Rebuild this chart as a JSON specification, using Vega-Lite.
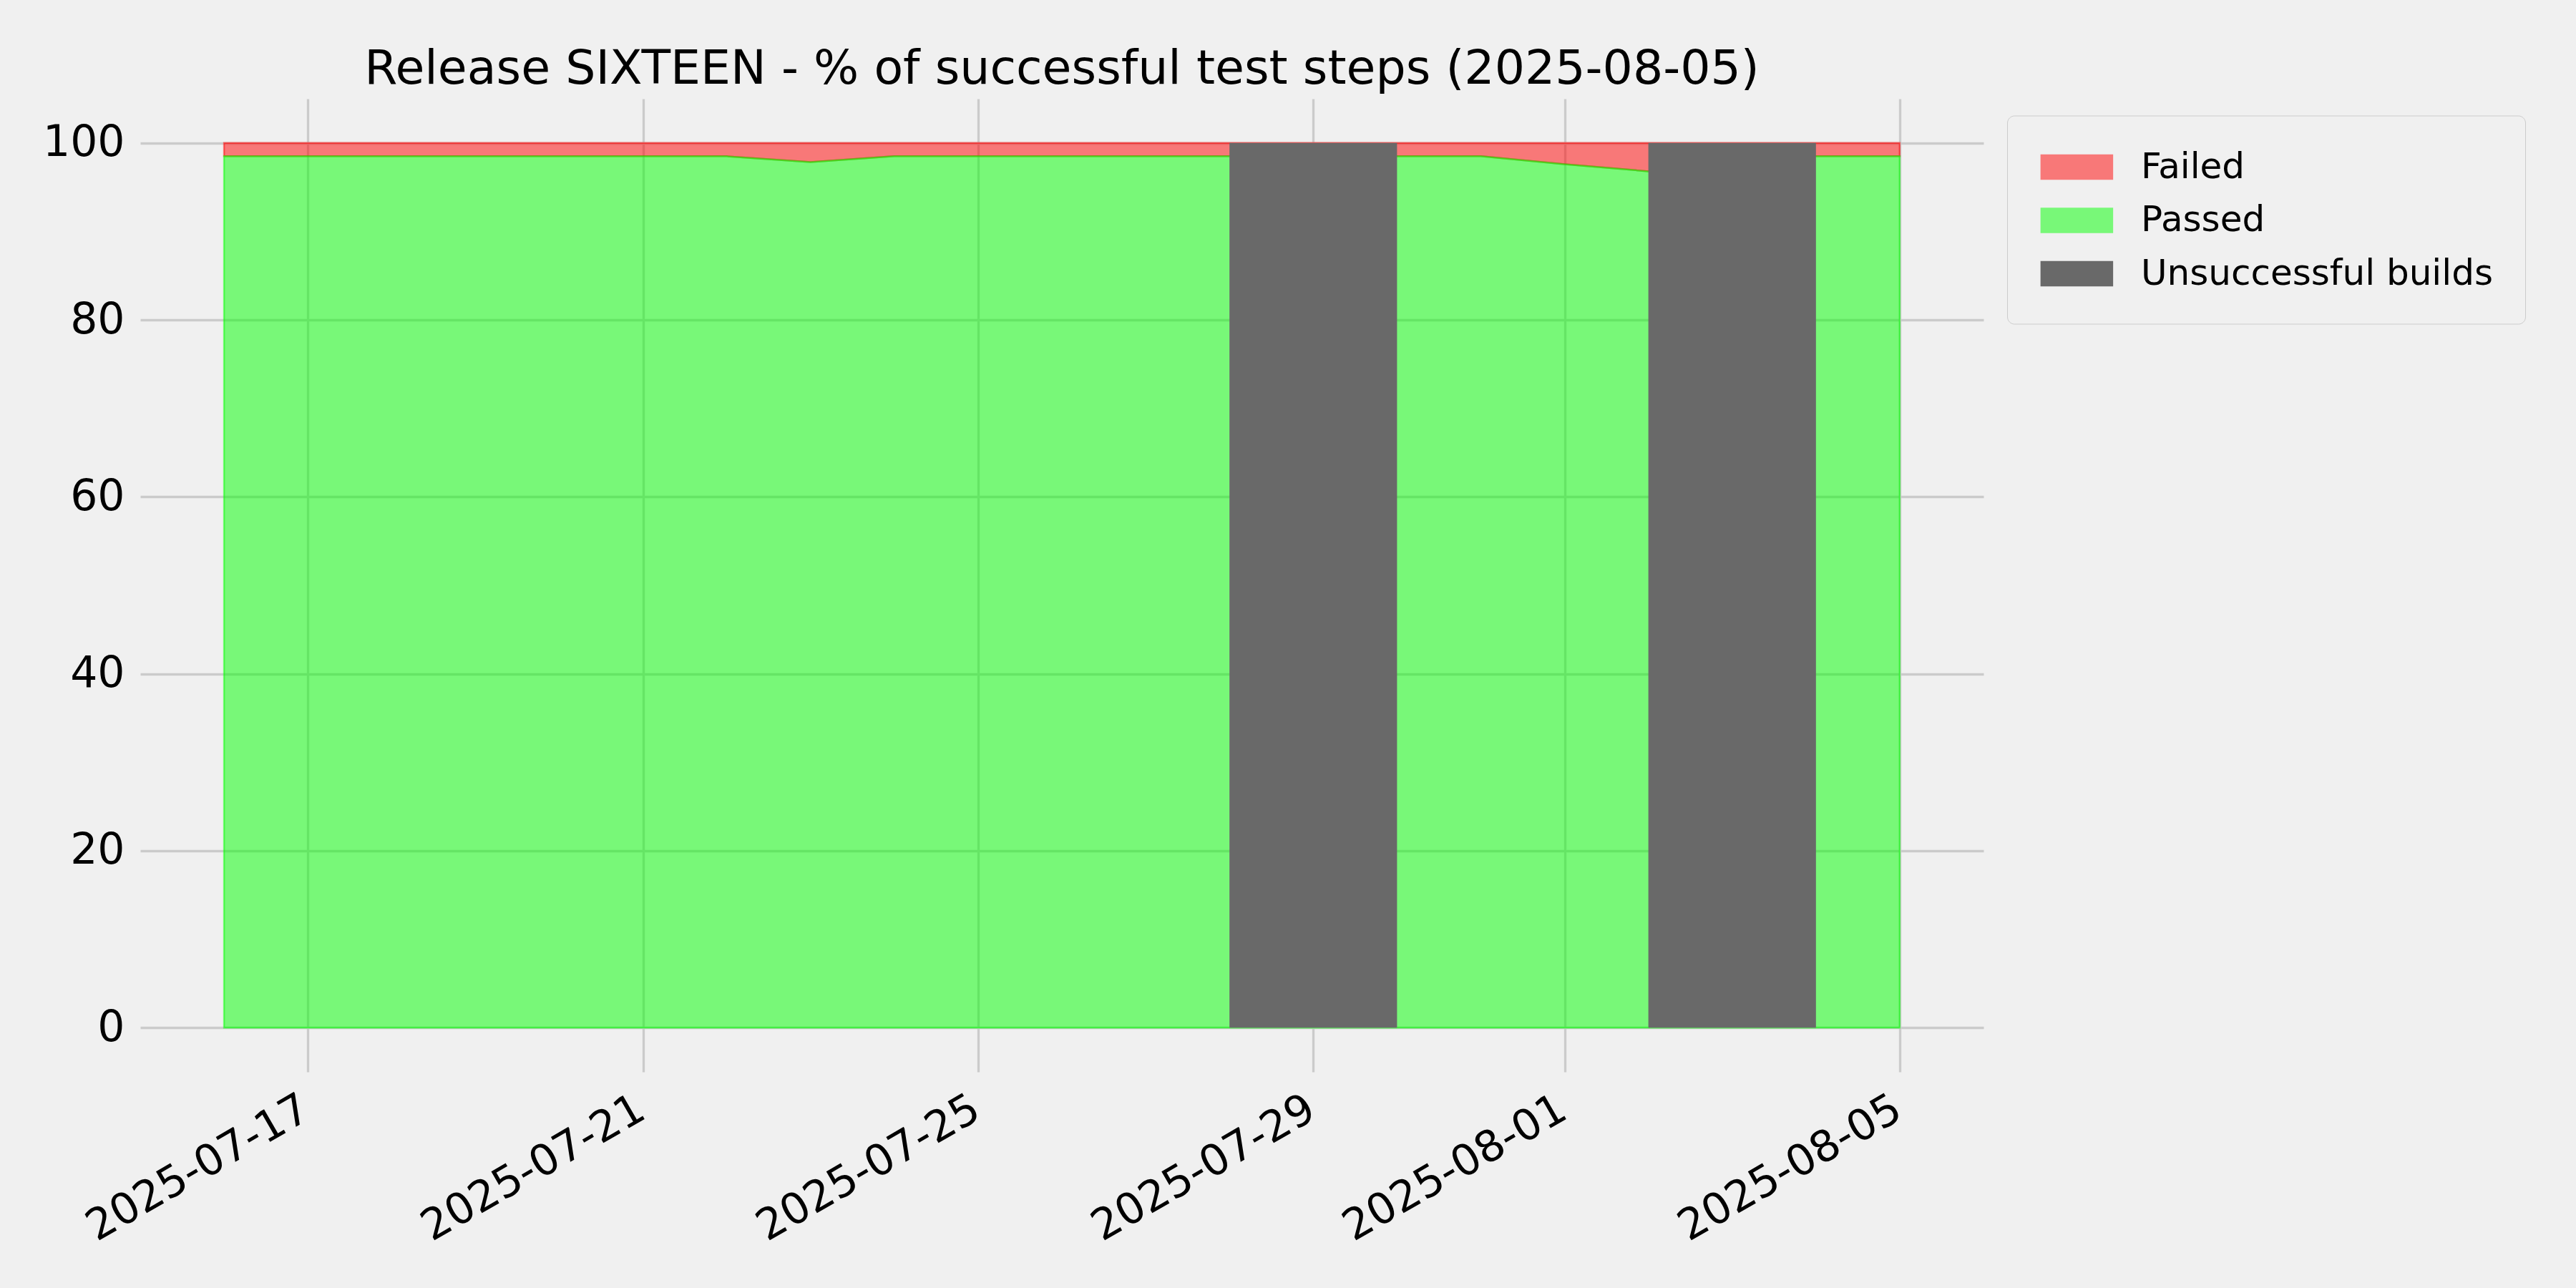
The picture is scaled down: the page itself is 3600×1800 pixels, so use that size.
{
  "$schema": "https://vega.github.io/schema/vega-lite/v6.json",
  "width": 2576,
  "height": 1360,
  "autosize": {"type": "none"},
  "padding": {"left": 196, "top": 138, "right": 828, "bottom": 302},
  "background": "#f0f0f0",
  "title": {
    "text": "Release SIXTEEN - % of successful test steps (2025-08-05)",
    "font": "DejaVu Sans",
    "fontSize": 66.5,
    "fontWeight": "normal",
    "color": "black",
    "anchor": "middle",
    "frame": "group",
    "baseline": "alphabetic",
    "offset": 24,
    "dy": 69
  },
  "config": {
    "view": {"stroke": null},
    "font": "DejaVu Sans",
    "axis": {
      "domain": false,
      "ticks": false,
      "grid": true,
      "gridColor": "#cbcbcb",
      "gridWidth": 3.3,
      "labelColor": "black",
      "labelFont": "DejaVu Sans",
      "labelFontSize": 60,
      "labelLimit": 2000,
      "title": null,
      "labelOverlap": false,
      "labelFlush": false,
      "labelBound": false
    }
  },
  "datasets": {
    "steps": [
      {"date": "2025-07-16", "passed": 98.5},
      {"date": "2025-07-17", "passed": 98.5},
      {"date": "2025-07-18", "passed": 98.5},
      {"date": "2025-07-19", "passed": 98.5},
      {"date": "2025-07-20", "passed": 98.5},
      {"date": "2025-07-21", "passed": 98.5},
      {"date": "2025-07-22", "passed": 98.5},
      {"date": "2025-07-23", "passed": 97.85},
      {"date": "2025-07-24", "passed": 98.5},
      {"date": "2025-07-25", "passed": 98.5},
      {"date": "2025-07-26", "passed": 98.5},
      {"date": "2025-07-27", "passed": 98.5},
      {"date": "2025-07-28", "passed": 98.5},
      {"date": "2025-07-30", "passed": 98.5},
      {"date": "2025-07-31", "passed": 98.5},
      {"date": "2025-08-01", "passed": 97.6},
      {"date": "2025-08-02", "passed": 96.8},
      {"date": "2025-08-04", "passed": 98.5},
      {"date": "2025-08-05", "passed": 98.5}
    ],
    "builds": [
      {"start": "2025-07-28", "end": "2025-07-30"},
      {"start": "2025-08-02", "end": "2025-08-04"}
    ]
  },
  "layer": [
    {
      "data": {"name": "steps"},
      "mark": {"type": "area", "fill": "#ff0000", "fillOpacity": 0.5, "stroke": "#ff0000", "strokeOpacity": 0.5, "strokeWidth": 2.5, "interpolate": "linear"},
      "encoding": {
        "x": {
          "field": "date",
          "type": "temporal",
          "scale": {
            "type": "utc",
            "domain": [
              {"year": 2025, "month": 7, "date": 15, "utc": true},
              {"year": 2025, "month": 8, "date": 6, "utc": true}
            ]
          },
          "axis": {
            "values": [
              {"year": 2025, "month": 7, "date": 17, "utc": true},
              {"year": 2025, "month": 7, "date": 21, "utc": true},
              {"year": 2025, "month": 7, "date": 25, "utc": true},
              {"year": 2025, "month": 7, "date": 29, "utc": true},
              {"year": 2025, "month": 8, "date": 1, "utc": true},
              {"year": 2025, "month": 8, "date": 5, "utc": true}
            ],
            "format": "%Y-%m-%d",
            "labelAngle": -30,
            "labelAlign": "right",
            "labelBaseline": "top",
            "labelPadding": 22,
            "labelOffset": -17
          }
        },
        "y": {
          "field": "passed",
          "type": "quantitative",
          "scale": {"domain": [-5, 105], "nice": false, "zero": false},
          "axis": {"values": [0, 20, 40, 60, 80, 100], "labelPadding": 22}
        },
        "y2": {"datum": 100}
      }
    },
    {
      "data": {"name": "steps"},
      "mark": {"type": "area", "fill": "#00ff00", "fillOpacity": 0.5, "stroke": "#00ff00", "strokeOpacity": 0.5, "strokeWidth": 2.5, "interpolate": "linear"},
      "encoding": {
        "x": {"field": "date", "type": "temporal"},
        "y": {"field": "passed", "type": "quantitative"},
        "y2": {"datum": 0}
      }
    },
    {
      "data": {"name": "builds"},
      "mark": {"type": "rect", "opacity": 1},
      "encoding": {
        "x": {"field": "start", "type": "temporal"},
        "x2": {"field": "end"},
        "y": {"datum": 0},
        "y2": {"datum": 100},
        "color": {
          "datum": "Unsuccessful builds",
          "scale": {
            "domain": ["Failed", "Passed", "Unsuccessful builds"],
            "range": ["#f87878", "#78f878", "#696969"]
          },
          "legend": {
            "orient": "none",
            "legendX": 2609,
            "legendY": 23.5,
            "title": null,
            "labelFont": "DejaVu Sans",
            "labelFontSize": 50,
            "labelColor": "black",
            "labelLimit": 2000,
            "symbolType": "M-1,-0.7H3V0.7H-1Z",
            "symbolSize": 2576,
            "symbolStrokeWidth": 2.5,
            "symbolOffset": 0,
            "labelOffset": 88,
            "rowPadding": 22.5,
            "padding": 45,
            "fillColor": "#f0f0f0",
            "strokeColor": "#cccccc",
            "cornerRadius": 10,
            "encode": {
              "legend": {"strokeWidth": {"value": 2.5}},
              "symbols": {
                "stroke": {
                  "condition": [
                    {"test": "datum.value === 'Failed'", "value": "#fb4848"},
                    {"test": "datum.value === 'Passed'", "value": "#48fb48"}
                  ],
                  "value": "#696969"
                },
                "strokeWidth": {"value": 2.5}
              }
            }
          }
        }
      }
    },
    {
      "mark": {"type": "rule", "color": "black", "strokeWidth": 8.3, "strokeDash": [30.7, 13.3], "strokeDashOffset": 6.7},
      "encoding": {"y": {"datum": 100}}
    }
  ]
}
